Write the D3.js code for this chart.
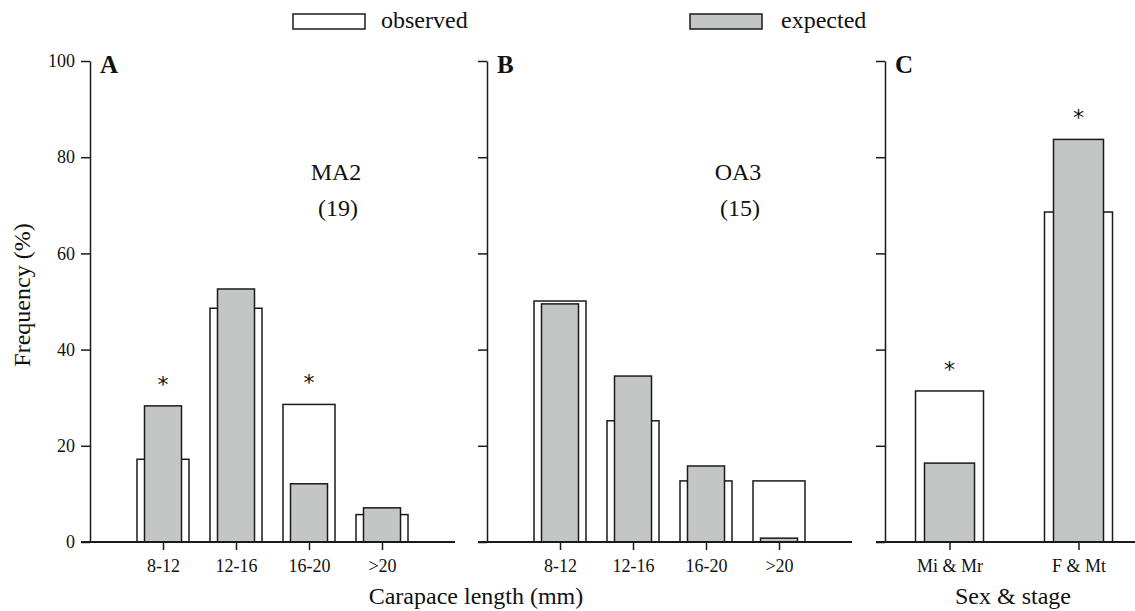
<!DOCTYPE html>
<html><head><meta charset="utf-8">
<script src="https://cdn.jsdelivr.net/npm/d3@7"></script>
<style>body{margin:0;background:#fff}svg{display:block}text{font-family:"Liberation Serif","Times New Roman",serif;fill:#111}</style>
</head><body><svg id="c" width="1135" height="611"></svg>
<script>
const sizeCats = ["8-12","12-16","16-20",">20"];
const sexCats = ["Mi & Mr","F & Mt"];
const obsA = [17.2,48.6,28.6,5.7];
const expA = [28.3,52.6,12.1,7.1];
const sigA = [true,false,true,false];
const obsB = [50.1,25.2,12.7,12.7];
const expB = [49.5,34.5,15.8,0.8];
const sigB = [false,false,false,false];
const obsC = [31.4,68.6];
const expC = [16.4,83.7];
const sigC = [true,true];
const yTicks = [0,20,40,60,80,100];
const panelLetters = ["A","B","C"];
const groupNames = ["MA2","OA3"];
const groupNs = ["(19)","(15)"];

const svg = d3.select("#c");
const stroke = "#1a1a1a", gray = "#c4c6c5";
const y = d3.scaleLinear().domain([0,100]).range([542,61]);

const panels = [
  {x0:90, x1:455, cats:sizeCats, obs:obsA, exp:expA, sig:sigA, pad:1, wObs:52, wExp:37, labels:true, letter:panelLetters[0], lx:0, base0:81, base1:455},
  {x0:487, x1:852, cats:sizeCats, obs:obsB, exp:expB, sig:sigB, pad:1, wObs:52, wExp:37, labels:false, letter:panelLetters[1], base0:478, base1:852},
  {x0:885, x1:1143, cats:sexCats, obs:obsC, exp:expC, sig:sigC, pad:0.5, wObs:68, wExp:50, labels:false, letter:panelLetters[2], base0:876, base1:1135}
];

panels.forEach((p,pi)=>{
  const g = svg.append("g");
  const x = d3.scalePoint().domain(p.cats).range([p.x0,p.x1]).padding(p.pad);
  // observed bars
  g.selectAll(".obs").data(p.cats).join("rect")
    .attr("x",d=>x(d)-p.wObs/2).attr("width",p.wObs)
    .attr("y",(d,i)=>y(p.obs[i])).attr("height",(d,i)=>y(0)-y(p.obs[i]))
    .attr("fill","#fff").attr("stroke",stroke).attr("stroke-width",1.5);
  // expected bars
  g.selectAll(".exp").data(p.cats).join("rect")
    .attr("x",d=>x(d)-p.wExp/2).attr("width",p.wExp)
    .attr("y",(d,i)=>y(p.exp[i])).attr("height",(d,i)=>y(0)-y(p.exp[i]))
    .attr("fill",gray).attr("stroke",stroke).attr("stroke-width",1.5);
  // asterisks
  g.selectAll(".sig").data(p.cats.filter((d,i)=>p.sig[i])).join("text")
    .attr("x",d=>x(d)).attr("y",d=>{const i=p.cats.indexOf(d);return y(Math.max(p.obs[i],p.exp[i]))-14;})
    .attr("text-anchor","middle").style("font-family","DejaVu Sans, sans-serif").style("font-size","22px").text("*");
  // y axis
  const ya = d3.axisLeft(y).tickValues(yTicks).tickSize(9).tickSizeOuter(0).tickPadding(6)
    .tickFormat(p.labels? d3.format("d") : ()=>"");
  const yg = g.append("g").attr("transform",`translate(${p.x0},0)`).call(ya);
  yg.select(".domain").attr("stroke",stroke).attr("stroke-width",1.5);
  yg.selectAll(".tick line").attr("stroke",stroke).attr("stroke-width",1.5);
  yg.selectAll("text").style("font-size","18px").style("font-family","Liberation Serif, serif").attr("fill","#111");
  // x axis
  const xa = d3.axisBottom(x).tickSize(8).tickSizeOuter(0).tickPadding(9);
  const xg = g.append("g").attr("transform",`translate(0,${y(0)})`).call(xa);
  xg.select(".domain").remove();
  xg.selectAll(".tick line").attr("stroke",stroke).attr("stroke-width",1.5);
  xg.selectAll("text").style("font-size","18px").style("font-family","Liberation Serif, serif").attr("fill","#111");
  g.append("line").attr("x1",p.base0).attr("x2",p.base1).attr("y1",y(0)).attr("y2",y(0))
    .attr("stroke",stroke).attr("stroke-width",2);
  // panel letter
  g.append("text").attr("x",p.x0+10).attr("y",73).style("font-size","25px").style("font-weight","bold").text(p.letter);
});

// group labels
[[336,0],[738,1]].forEach(([cx,i])=>{
  svg.append("text").attr("x",cx).attr("y",180).attr("text-anchor","middle").style("font-size","24px").text(groupNames[i]);
  svg.append("text").attr("x",cx+2).attr("y",216).attr("text-anchor","middle").style("font-size","24px").text(groupNs[i]);
});

// axis titles
svg.append("text").attr("x",476).attr("y",604).attr("text-anchor","middle").style("font-size","24px").text("Carapace length (mm)");
svg.append("text").attr("x",1013).attr("y",604).attr("text-anchor","middle").style("font-size","24px").text("Sex & stage");
svg.append("text").attr("transform","translate(30,295) rotate(-90)").attr("text-anchor","middle").style("font-size","24px").text("Frequency (%)");

// legend
const legend = [{label:"observed",fill:"#fff",x:293,tx:381},{label:"expected",fill:gray,x:690,tx:781}];
legend.forEach(l=>{
  svg.append("rect").attr("x",l.x).attr("y",14).attr("width",72).attr("height",15)
    .attr("fill",l.fill).attr("stroke",stroke).attr("stroke-width",1.5);
  svg.append("text").attr("x",l.tx).attr("y",28).style("font-size","24px").text(l.label);
});
</script></body></html>
